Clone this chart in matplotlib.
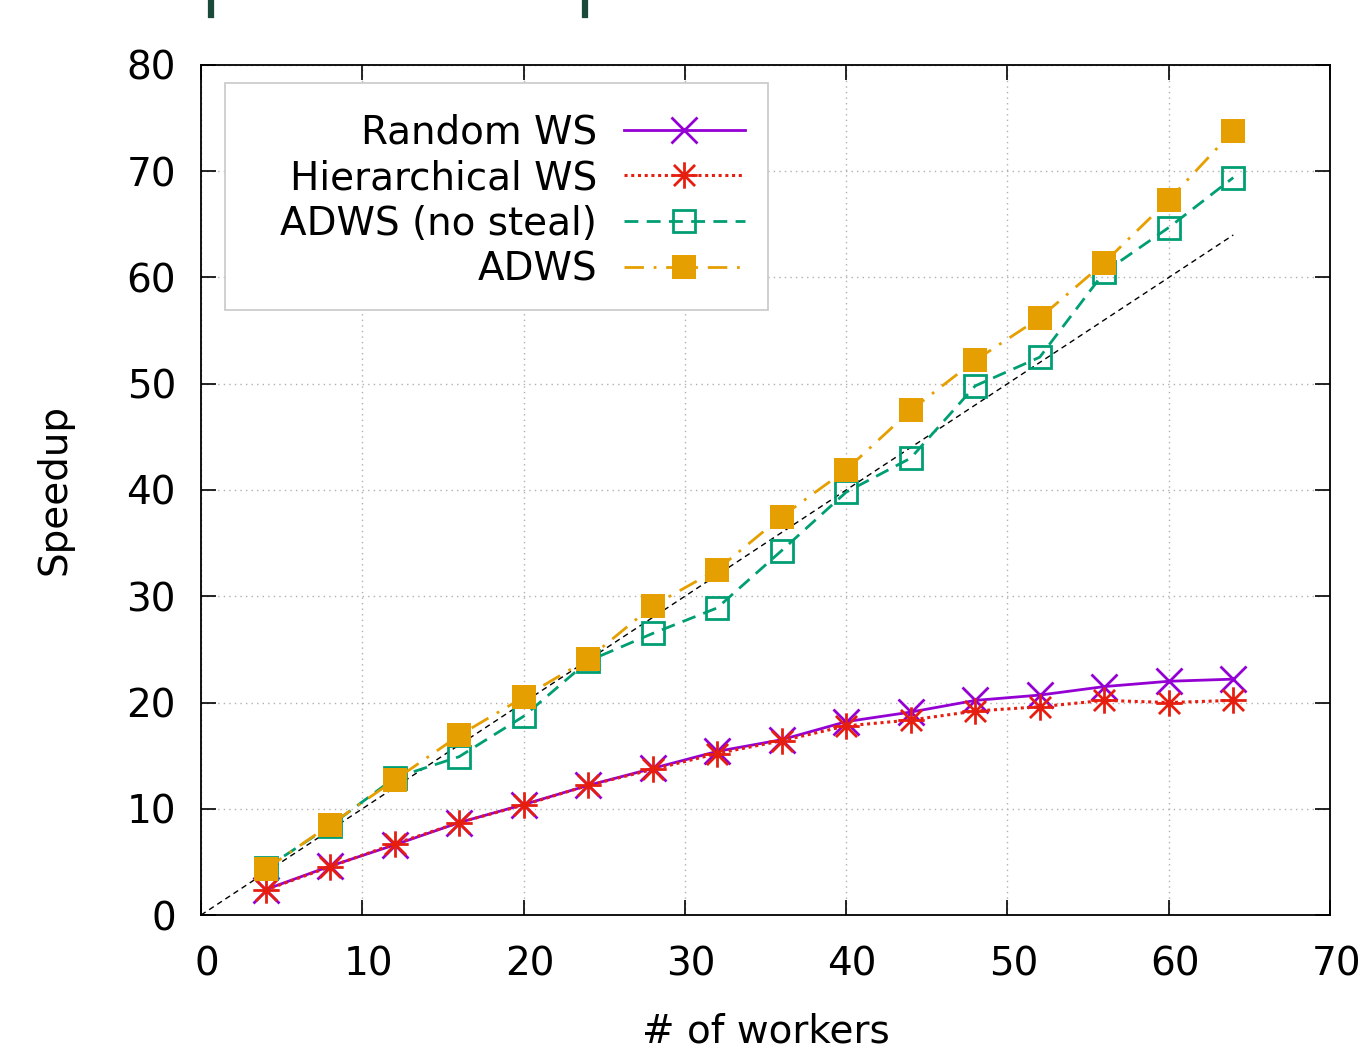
import numpy as np
import matplotlib
matplotlib.use("Agg")
import matplotlib.pyplot as plt
from matplotlib.path import Path
from matplotlib.lines import Line2D
from matplotlib.patches import Rectangle
from matplotlib.transforms import ScaledTranslation

workers = [4, 8, 12, 16, 20, 24, 28, 32, 36, 40, 44, 48, 52, 56, 60, 64]
random_ws = [2.4, 4.6, 6.6, 8.7, 10.4, 12.2, 13.8, 15.4, 16.5, 18.2, 19.1, 20.2, 20.7, 21.5, 22.0, 22.2]
hier_ws = [2.35, 4.55, 6.7, 8.7, 10.35, 12.2, 13.7, 15.2, 16.4, 17.8, 18.35, 19.2, 19.6, 20.2, 20.0, 20.2]
adws_nosteal = [4.4, 8.4, 12.9, 14.9, 18.7, 23.9, 26.5, 28.9, 34.3, 39.8, 43.0, 49.8, 52.5, 60.5, 64.7, 69.4]
adws = [4.3, 8.5, 12.7, 16.9, 20.5, 24.1, 29.1, 32.5, 37.5, 41.9, 47.5, 52.2, 56.2, 61.4, 67.3, 73.8]
ideal_x = [0, 64]
ideal_y = [0, 64]

plt.rcParams['font.family'] = ['DejaVu Sans']
plt.rcParams['font.size'] = 28

# gnuplot-style asterisk marker (plus + cross)
asterisk = Path(
    [(-1, -1), (1, 1), (-1, 1), (1, -1), (0, -1.25), (0, 1.25), (-1.25, 0), (1.25, 0)],
    [Path.MOVETO, Path.LINETO] * 4)

fig = plt.figure(figsize=(13.6, 10.46), dpi=100)
ax = fig.add_axes([0.1478, 0.1252, 0.8302, 0.8127])

ax.plot(ideal_x, ideal_y, color='black', lw=1.0, dashes=(4, 3), zorder=2)
ax.plot(workers, random_ws, color='#9400d3', lw=2, marker='x', ms=19, mew=2,
        label='Random WS', zorder=3)
ax.plot(workers, hier_ws, color='#e51e10', lw=2.2, dashes=(1, 1.2), marker=asterisk,
        ms=19, mew=2, mfc='none', label='Hierarchical WS', zorder=4)
ax.plot(workers, adws_nosteal, color='#009e73', lw=2, dashes=(5, 3), marker='s', ms=16,
        mew=2, mfc='none', label='ADWS (no steal)', zorder=5)
ax.plot(workers, adws, color='#e69f00', lw=2, dashes=(7, 3.5, 1, 3.5), marker='s', ms=17,
        mew=0, label='ADWS', zorder=6)

ax.set_xlim(0, 70)
ax.set_ylim(0, 80)
ax.set_xticks(range(0, 71, 10))
ax.set_yticks(range(0, 81, 10))
ax.tick_params(direction='in', length=11, width=1.2, top=True, right=True)
ax.tick_params(axis='x', pad=22)
ax.tick_params(axis='y', pad=18)
shift = ScaledTranslation(6 / 100, 0, fig.dpi_scale_trans)
for lab in ax.get_xticklabels():
    lab.set_transform(lab.get_transform() + shift)
ax.grid(True, color='#b0b0b0', linestyle=(0, (1, 3)), lw=1)
for s in ax.spines.values():
    s.set_linewidth(1.3)

ax.set_xlabel('# of workers', labelpad=21)
ax.set_ylabel('Speedup', labelpad=38)

# gnuplot-like key box, wider on the left than matplotlib's own frame
ax.add_patch(Rectangle((0.0213, 0.7118), 0.4809, 0.267, transform=ax.transAxes,
                       facecolor='white', edgecolor='#c8c8c8', lw=1.2, zorder=7))
leg = ax.legend(loc='upper right', bbox_to_anchor=(0.5022, 0.9706), borderaxespad=0,
                markerfirst=False, handlelength=3.1, handletextpad=0.7, borderpad=0.6,
                labelspacing=0.2, frameon=False, fontsize=28)
leg.set_zorder(8)

# stray marks at the top edge of the source image
for xf in (0.1555, 0.4305):
    fig.add_artist(Line2D([xf, xf], [0.986, 1.0], color='#1a4a3a', lw=4.5))

fig.savefig('out.png', dpi=100)
